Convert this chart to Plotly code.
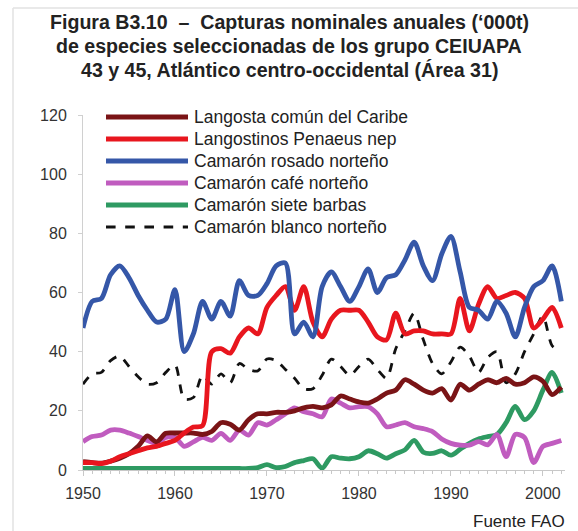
import plotly.graph_objects as go

years = list(range(1950, 2003))

langosta = [2.8, 2.5, 2.3, 3, 4, 5.5, 8, 11.5, 9.5, 12.4, 12.5, 12.5, 12.5, 12, 13, 16, 15.5, 13.5, 17, 19,
            19, 19.5, 19.5, 20, 21, 21.5, 21, 22, 25, 24, 23, 22.6, 24, 26, 27, 30.5, 29, 27, 26, 27.5,
            23.6, 29, 27, 29, 30.5, 29.5, 31, 29, 29.5, 31.5, 30, 25.5, 28]
langostinos = [2.5, 2.5, 2.2, 3, 4.5, 5.5, 6.5, 7.5, 8, 9, 10, 12.5, 14.5, 15, 40, 41, 39.5, 45, 48, 46,
               55, 59, 62, 54, 62, 50, 45, 51, 54, 54, 54, 50, 45, 44, 53, 46, 47, 47, 46, 46,
               46, 58, 47, 56, 62, 58, 59, 60, 58, 48, 51, 55, 48]
rosado = [48, 57, 58, 66, 69, 65, 59, 54, 50, 51, 61, 40, 46, 57, 51, 57, 52, 64, 59, 59,
          63, 69, 70, 46, 50, 45, 62, 67, 62, 57, 62, 68, 60, 65, 66, 71, 77, 69, 64, 73,
          79, 67, 55, 54, 51, 57, 53, 45, 55, 62, 64, 69, 57]
cafe = [9.6, 11.3, 11.8, 13.5, 13.5, 12.5, 11.3, 10, 9, 11, 11, 8, 9.5, 11, 10, 12.4, 10, 13.5, 11.8, 16,
        15.2, 17, 19, 21, 19.7, 19, 18, 24, 22.6, 21, 21.4, 21.4, 19, 14.6, 15.2, 16, 14.6, 14, 13, 10.5,
        9, 8.4, 8.4, 9.6, 8.5, 12, 4.5, 12, 11, 2.5, 8, 9, 10]
siete = [0.5] * 19 + [0.8, 1.8, 0.8, 1.2, 2.5, 3.2, 3.8, 0.6, 4.5, 4, 3.8, 4.5, 6.5, 5.5, 4, 5.5, 6.8, 10,
                      6, 5.6, 6.5, 5, 7, 9, 10.5, 11.3, 12, 16, 21.5, 17, 20, 27, 33, 26]
blanco = [29, 32.5, 33, 37, 38.5, 35, 31.5, 29, 29.5, 33, 35.5, 24, 24.5, 32, 29, 32.5, 29.5, 36, 34, 33.5,
          37.5, 37, 34, 31, 27.5, 27.5, 32, 37.5, 35, 32, 35, 37.5, 34, 31, 41, 47, 53, 44, 36, 32.5,
          36.5, 41.5, 38.5, 33, 38, 40, 29.5, 32.5, 40, 46, 52, 42, 40]

names = ["Langosta común del Caribe", "Langostinos Penaeus nep", "Camarón rosado norteño",
         "Camarón café norteño", "Camarón siete barbas", "Camarón blanco norteño"]
series = [langosta, langostinos, rosado, cafe, siete, blanco]
colors = ["#7a1416", "#e8161e", "#3557a8", "#c05cbf", "#2e9a62", "#111111"]
dashes = ["solid"] * 5 + ["dash"]
widths = [4.8, 4.8, 4.8, 4.8, 4.8, 2.8]

W, H = 578, 531
L, R, T, B = 83, 565, 115, 470
FONT = "Liberation Sans, Arial"

fig = go.Figure()
draw_order = [4, 3, 5, 0, 1, 2]
for i in draw_order:
    fig.add_trace(go.Scatter(x=years, y=series[i], mode="lines", name=names[i],
                             line=dict(color=colors[i], width=widths[i], dash=dashes[i],
                                       shape="spline", smoothing=0.8),
                             showlegend=False))

def px(xp):
    return (xp - L) / (R - L)

def py(yp):
    return (B - yp) / (B - T)

shapes = []
annotations = []
# manual legend
for k, nm in enumerate(names):
    yy = 117 + 22 * k
    shapes.append(dict(type="line", xref="paper", yref="paper", x0=px(106), x1=px(188),
                       y0=py(yy), y1=py(yy),
                       line=dict(color=colors[k], width=5 if k < 5 else 3.2,
                                 dash="solid" if k < 5 else "dash")))
    annotations.append(dict(xref="paper", yref="paper", x=px(192), y=py(yy), text=nm,
                            showarrow=False, xanchor="left", yanchor="middle",
                            font=dict(family=FONT, size=17.5, color="#222")))

titles = ["Figura B3.10  –  Capturas nominales anuales (‘000t)",
          "de especies seleccionadas de los grupo CEIUAPA",
          "43 y 45, Atlántico centro-occidental (Área 31)"]
for k, t in enumerate(titles):
    annotations.append(dict(xref="paper", yref="paper", x=px(289), y=py(22 + 24 * k), text="<b>" + t + "</b>",
                            showarrow=False, xanchor="center", yanchor="middle",
                            font=dict(family=FONT, size=19.6, color="#222")))

annotations.append(dict(xref="paper", yref="paper", x=px(567), y=py(521), text="Fuente FAO",
                        showarrow=False, xanchor="right", yanchor="middle",
                        font=dict(family=FONT, size=17, color="#222")))

# light frame
shapes.append(dict(type="line", xref="paper", yref="paper", x0=px(13), x1=px(13), y0=py(8), y1=py(531),
                   line=dict(color="#e2e2e2", width=1.5)))
shapes.append(dict(type="line", xref="paper", yref="paper", x0=px(13), x1=px(578), y0=py(8), y1=py(8),
                   line=dict(color="#e2e2e2", width=1.5)))

fig.update_layout(
    width=W, height=H,
    margin=dict(l=L, r=W - R, t=T, b=H - B),
    paper_bgcolor="white", plot_bgcolor="white",
    shapes=shapes, annotations=annotations,
    font=dict(family=FONT, color="#333"),
)
fig.update_xaxes(range=[1950, 2002.4], tickmode="array", tickvals=[1950, 1960, 1970, 1980, 1990, 2000],
                 showline=True, linecolor="#c8c8c8", linewidth=1, ticks="outside", ticklen=5,
                 tickcolor="#c8c8c8", showgrid=False, zeroline=False, ticklabelstandoff=4,
                 tickfont=dict(size=16, color="#333"),
                 minor=dict(dtick=1, ticks="outside", ticklen=3, tickcolor="#c8c8c8", showgrid=False))
fig.update_yaxes(range=[0, 120], dtick=20, showline=True, linecolor="#d0d0d0", linewidth=1,
                 ticks="outside", ticklen=4, tickcolor="#d0d0d0", showgrid=False, zeroline=False,
                 ticklabelstandoff=8, tickfont=dict(size=16, color="#333"))

fig.write_html("out.html", config={"displayModeBar": False},
               post_script="document.body.style.margin='0';")
